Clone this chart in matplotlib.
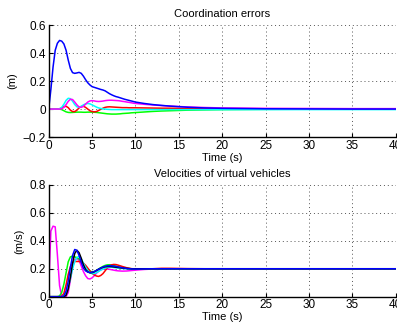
import matplotlib
matplotlib.use("Agg")
import matplotlib.pyplot as plt

plt.rcParams['font.family'] = ['Liberation Sans', 'DejaVu Sans']

# ---------- Top: coordination errors ----------
t_err = [0, 0.25, 0.5, 0.75, 1.0, 1.25, 1.5, 1.75, 2.0, 2.25, 2.5, 2.75, 3.0, 3.25, 3.5, 3.75,
         4.0, 4.25, 4.5, 4.75, 5.0, 5.25, 5.5, 5.75, 6.0, 6.25, 6.5, 6.75, 7.0, 7.25, 7.5, 7.75,
         8.0, 8.25, 8.5, 8.75, 9.0, 9.25, 9.5, 9.75, 10,
         11, 12, 13, 14, 15, 16, 18, 20, 25, 30, 35, 40]

err_blue = [0, 0.14, 0.30, 0.42, 0.47, 0.49, 0.485, 0.465, 0.42, 0.35, 0.29, 0.26, 0.255, 0.258, 0.262, 0.255,
            0.235, 0.21, 0.188, 0.172, 0.16, 0.155, 0.15, 0.145, 0.14, 0.136, 0.13, 0.12, 0.11, 0.102, 0.095, 0.089,
            0.085, 0.08, 0.075, 0.07, 0.066, 0.062, 0.058, 0.054, 0.05,
            0.04, 0.032, 0.026, 0.021, 0.017, 0.013, 0.008, 0.005, 0.002, 0.001, 0.0, 0.0]

err_cyan = [0, 0, 0, 0, 0, 0.002, 0.012, 0.035, 0.062, 0.077, 0.074, 0.056, 0.032, 0.016, 0.012, 0.02,
            0.03, 0.037, 0.04, 0.037, 0.03, 0.022, 0.014, 0.008, 0.004, 0.001, 0.0, -0.002, -0.003, -0.004, -0.004, -0.004,
            -0.004, -0.004, -0.004, -0.004, -0.004, -0.004, -0.004, -0.004, -0.004,
            -0.004, -0.004, -0.004, -0.004, -0.004, -0.004, -0.004, -0.004, -0.004, -0.004, -0.004, -0.004]

err_magenta = [0, 0, 0, 0, 0, 0, 0.002, 0.012, 0.032, 0.055, 0.07, 0.068, 0.05, 0.03, 0.015, 0.012,
               0.02, 0.035, 0.05, 0.058, 0.06, 0.058, 0.055, 0.054, 0.055, 0.057, 0.06, 0.062, 0.063, 0.063, 0.062, 0.061,
               0.06, 0.058, 0.055, 0.053, 0.05, 0.048, 0.045, 0.042, 0.04,
               0.034, 0.029, 0.025, 0.021, 0.018, 0.015, 0.011, 0.008, 0.005, 0.004, 0.003, 0.003]

err_red = [0, 0, 0, 0, 0, 0.002, 0.008, 0.016, 0.02, 0.01, -0.008, -0.018, -0.018, -0.008, 0.008, 0.018,
           0.02, 0.012, 0.0, -0.012, -0.018, -0.02, -0.018, -0.01, -0.002, 0.006, 0.012, 0.015, 0.016, 0.015, 0.014, 0.013,
           0.012, 0.011, 0.01, 0.01, 0.01, 0.009, 0.009, 0.009, 0.009,
           0.008, 0.007, 0.006, 0.006, 0.005, 0.004, 0.003, 0.003, 0.002, 0.001, 0.001, 0.001]

err_green = [0, 0, 0, 0, 0, 0, -0.004, -0.012, -0.02, -0.024, -0.025, -0.024, -0.023, -0.022, -0.022, -0.022,
             -0.023, -0.023, -0.022, -0.022, -0.022, -0.023, -0.024, -0.026, -0.028, -0.03, -0.032, -0.034, -0.035, -0.036, -0.036, -0.036,
             -0.035, -0.034, -0.032, -0.031, -0.03, -0.029, -0.027, -0.026, -0.025,
             -0.021, -0.017, -0.014, -0.012, -0.01, -0.008, -0.006, -0.004, -0.002, -0.001, -0.001, -0.001]

# ---------- Bottom: velocities ----------
t_vel = [0, 0.25, 0.5, 0.75, 1.0, 1.25, 1.5, 1.75, 2.0, 2.25, 2.5, 2.75, 3.0, 3.25, 3.5, 3.75,
         4.0, 4.25, 4.5, 4.75, 5.0, 5.25, 5.5, 5.75, 6.0, 6.25, 6.5, 6.75, 7.0, 7.25, 7.5, 7.75,
         8.0, 8.5, 9.0, 9.5, 10, 11, 12, 13, 14, 15, 16, 18, 20, 25, 30, 35, 40]

vel_magenta = [0.07, 0.47, 0.505, 0.5, 0.3, 0.08, 0.0, 0.0, 0.0, 0.03, 0.12, 0.21, 0.265, 0.275, 0.26, 0.22,
               0.18, 0.15, 0.13, 0.127, 0.135, 0.15, 0.168, 0.182, 0.192, 0.198, 0.2, 0.199, 0.196, 0.193, 0.19, 0.187,
               0.185, 0.183, 0.184, 0.187, 0.19, 0.195, 0.198, 0.2, 0.2, 0.2, 0.2, 0.2, 0.2, 0.2, 0.2, 0.2, 0.2]

vel_green = [0, 0, 0, 0, 0, 0.005, 0.03, 0.09, 0.17, 0.25, 0.285, 0.29, 0.285, 0.28, 0.27, 0.252,
             0.232, 0.212, 0.195, 0.183, 0.178, 0.18, 0.188, 0.198, 0.208, 0.217, 0.224, 0.228, 0.229, 0.227, 0.223, 0.219,
             0.215, 0.208, 0.203, 0.2, 0.199, 0.2, 0.2, 0.2, 0.2, 0.2, 0.2, 0.2, 0.2, 0.2, 0.2, 0.2, 0.2]

vel_red = [0, 0, 0, 0, 0, 0, 0.002, 0.025, 0.085, 0.16, 0.215, 0.245, 0.252, 0.252, 0.252, 0.25,
           0.24, 0.225, 0.205, 0.185, 0.168, 0.156, 0.148, 0.145, 0.152, 0.165, 0.185, 0.205, 0.22, 0.228, 0.231, 0.23,
           0.226, 0.216, 0.207, 0.201, 0.198, 0.198, 0.2, 0.203, 0.203, 0.202, 0.201, 0.2, 0.2, 0.2, 0.2, 0.2, 0.2]

vel_cyan = [0, 0, 0, 0, 0, 0, 0, 0.005, 0.025, 0.065, 0.13, 0.2, 0.25, 0.28, 0.29, 0.272,
            0.24, 0.212, 0.188, 0.172, 0.165, 0.166, 0.172, 0.181, 0.19, 0.198, 0.205, 0.209, 0.211, 0.211, 0.209, 0.207,
            0.205, 0.202, 0.2, 0.2, 0.2, 0.2, 0.2, 0.2, 0.2, 0.2, 0.2, 0.2, 0.2, 0.2, 0.2, 0.2, 0.2]

vel_black = [0, 0, 0, 0, 0, 0, 0, 0, 0.01, 0.055, 0.14, 0.24, 0.31, 0.332, 0.315, 0.275,
             0.228, 0.195, 0.178, 0.171, 0.172, 0.178, 0.187, 0.196, 0.204, 0.21, 0.214, 0.216, 0.216, 0.215, 0.213, 0.211,
             0.209, 0.205, 0.202, 0.2, 0.2, 0.2, 0.2, 0.2, 0.2, 0.2, 0.2, 0.2, 0.2, 0.2, 0.2, 0.2, 0.2]

vel_blue = [0, 0, 0, 0, 0, 0, 0, 0.005, 0.04, 0.11, 0.21, 0.295, 0.338, 0.332, 0.295, 0.245,
            0.205, 0.185, 0.176, 0.173, 0.175, 0.18, 0.188, 0.197, 0.205, 0.212, 0.218, 0.221, 0.222, 0.221, 0.219, 0.216,
            0.213, 0.207, 0.202, 0.199, 0.198, 0.199, 0.2, 0.2, 0.2, 0.2, 0.2, 0.2, 0.2, 0.2, 0.2, 0.2, 0.2]

x_ticks = [0, 5, 10, 15, 20, 25, 30, 35, 40]
err_ticks = [-0.2, 0, 0.2, 0.4, 0.6]
vel_ticks = [0, 0.2, 0.4, 0.6, 0.8]

fig = plt.figure(figsize=(3.97, 3.24), dpi=100)
ax1 = fig.add_axes([0.1227, 0.577, 0.874, 0.3457])
ax2 = fig.add_axes([0.1227, 0.0843, 0.874, 0.3448])

lw = 1.1
ax1.plot(t_err, err_green, color='#00ff00', lw=lw)
ax1.plot(t_err, err_red, color='#ff0000', lw=lw)
ax1.plot(t_err, err_cyan, color='#00ffff', lw=lw)
ax1.plot(t_err, err_magenta, color='#ff00ff', lw=lw)
ax1.plot(t_err, err_blue, color='#0000ff', lw=lw)

ax2.plot(t_vel, vel_magenta, color='#ff00ff', lw=lw)
ax2.plot(t_vel, vel_green, color='#00ff00', lw=lw)
ax2.plot(t_vel, vel_red, color='#ff0000', lw=lw)
ax2.plot(t_vel, vel_cyan, color='#00ffff', lw=lw)
ax2.plot(t_vel, vel_black, color='#000000', lw=lw)
ax2.plot(t_vel, vel_blue, color='#0000ff', lw=lw)

def style(ax, yticks, ylabel, title):
    ax.set_xlim(0, 40)
    ax.set_ylim(yticks[0], yticks[-1])
    ax.set_xticks(x_ticks)
    ax.set_yticks(yticks)
    ax.set_yticklabels(['0' if v == 0 else ('\u2212%.1f' % -v if v < 0 else '%.1f' % v) for v in yticks])
    ax.set_xticklabels([str(v) for v in x_ticks])
    ax.spines['top'].set_visible(False)
    ax.spines['right'].set_visible(False)
    ax.spines['left'].set_linewidth(1.0)
    ax.spines['bottom'].set_linewidth(1.0)
    ax.tick_params(direction='in', length=3, width=0.8, labelsize=8.5, pad=2)
    ax.grid(True, linestyle=(0, (1, 3)), color='#555555', linewidth=0.7)
    ax.set_axisbelow(True)
    ax.set_xlabel('Time (s)', fontsize=8, labelpad=0.5)
    ax.set_ylabel(ylabel, fontsize=8, labelpad=4)
    ax.set_title(title, fontsize=8, pad=6)

style(ax1, err_ticks, '(m)', 'Coordination errors')
style(ax2, vel_ticks, '(m/s)', 'Velocities of virtual vehicles')

fig.savefig('out.png', dpi=100)
